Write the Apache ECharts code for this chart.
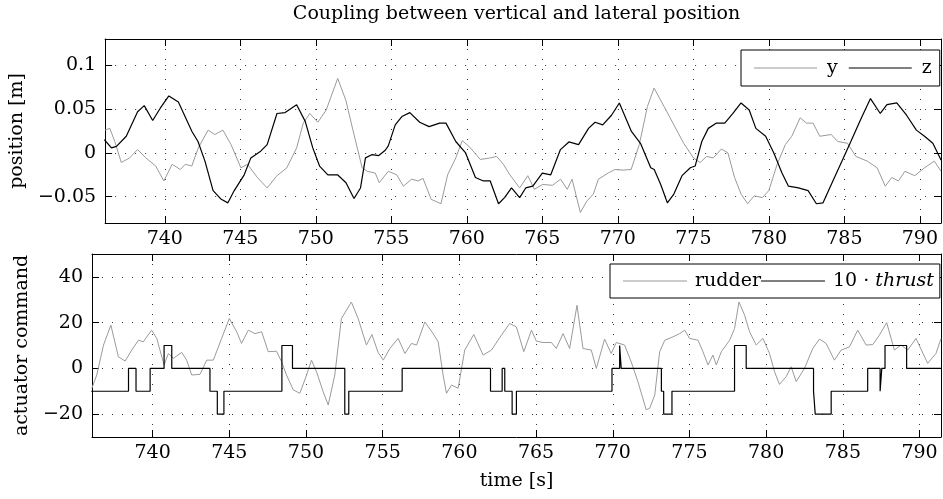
<!DOCTYPE html>
<html><head><meta charset="utf-8">
<script src="https://cdn.jsdelivr.net/npm/echarts@6/dist/echarts.min.js"></script>
<style>html,body{margin:0;padding:0;background:#fff}#c{width:943px;height:499px}</style>
</head><body><div id="c"></div>
<script>
const titleText = 'Coupling between vertical and lateral position';
const xTicks = [740,745,750,755,760,765,770,775,780,785,790];
const posTicks = [-0.05,0,0.05,0.1];
const actTicks = [-20,0,20,40];

const zTime = [736.0,736.47,736.8,737.45,738.2,738.64,739.2,739.7,740.27,740.9,741.8,742.2,742.66,743.2,743.74,744.18,744.6,745.26,745.7,746.35,746.78,747.43,747.97,748.73,749.3,749.8,750.25,750.8,751.44,752.0,752.53,752.96,753.29,753.7,754.17,754.6,754.8,755.26,755.7,756.23,756.88,757.5,758.2,758.62,759.27,759.92,760.57,761.1,761.55,762.1,762.5,762.96,763.5,763.9,764.37,765.0,765.56,766.2,766.76,767.4,768.06,768.49,769.0,769.58,770.1,770.9,771.5,772.18,772.41,772.84,773.05,773.28,773.71,774.25,774.8,775.12,775.56,775.99,776.53,777.08,777.62,778.16,778.7,779.14,779.79,780.33,780.87,781.3,781.96,782.6,783.15,783.59,784.24,784.89,785.43,786.08,786.73,787.38,787.82,788.47,789.12,789.77,790.31,790.86,791.29,791.4];
const zVal = [0.015,0.0057,0.0075,0.019,0.047,0.054,0.037,0.051,0.065,0.058,0.0245,0.013,-0.0094,-0.043,-0.053,-0.057,-0.043,-0.025,-0.0057,0.002,0.0094,0.045,0.046,0.055,0.036,0.0057,-0.015,-0.025,-0.025,-0.034,-0.052,-0.040,-0.0057,-0.002,-0.003,0.003,0.008,0.032,0.0415,0.046,0.035,0.030,0.034,0.034,0.013,0.0,-0.028,-0.032,-0.032,-0.058,-0.051,-0.040,-0.051,-0.040,-0.038,-0.023,-0.025,0.0038,0.0125,0.0094,0.028,0.035,0.032,0.043,0.057,0.0245,0.011,-0.017,-0.019,-0.036,-0.046,-0.057,-0.047,-0.026,-0.017,-0.015,0.013,0.028,0.034,0.034,0.045,0.057,0.049,0.028,0.019,0.0,-0.023,-0.038,-0.040,-0.043,-0.058,-0.057,-0.032,-0.0075,0.013,0.038,0.062,0.045,0.055,0.057,0.043,0.026,0.019,0.011,-0.004,-0.008];

const yTime = [736.04,736.36,736.69,737.12,737.67,738.2,738.75,739.4,739.94,740.49,741.03,741.36,741.79,742.22,742.87,743.31,743.85,744.39,745.04,745.48,746.13,746.78,747.43,748.08,748.73,749.17,749.6,750.14,750.69,751.45,751.99,752.53,753.07,753.4,753.94,754.2,754.8,755.36,755.8,756.34,756.77,757.1,757.64,758.29,758.73,759.27,759.7,760.14,760.9,761.55,761.98,762.42,762.85,763.5,764.04,764.48,765.02,765.67,766.21,766.65,766.97,767.52,767.95,768.38,768.71,769.36,769.79,770.34,770.88,771.42,771.96,772.4,773.06,773.71,774.36,775.01,775.45,775.88,776.32,776.86,777.29,777.73,778.16,778.6,779.03,779.57,780.0,780.55,781.09,781.52,782.07,782.5,782.93,783.37,784.13,784.56,785.21,785.76,786.52,787.17,787.71,788.14,788.58,789.01,789.66,790.31,790.96,791.4];
const yVal = [0.026,0.028,0.013,-0.011,-0.0057,0.0038,-0.0057,-0.015,-0.032,-0.013,-0.019,-0.013,-0.015,0.0057,0.026,0.021,0.026,0.0094,-0.017,-0.013,-0.028,-0.040,-0.026,-0.017,0.0057,0.034,0.045,0.035,0.049,0.085,0.060,0.021,-0.017,-0.021,-0.023,-0.034,-0.021,-0.025,-0.038,-0.030,-0.032,-0.029,-0.053,-0.058,-0.025,-0.0057,0.014,0.0075,-0.0075,-0.0057,-0.004,-0.013,-0.025,-0.040,-0.026,-0.0415,-0.036,-0.037,-0.030,-0.0415,-0.030,-0.068,-0.055,-0.047,-0.030,-0.023,-0.019,-0.0196,-0.019,0.0094,0.053,0.074,0.053,0.032,0.011,-0.0057,-0.011,-0.004,-0.0057,0.0045,0.0,-0.028,-0.047,-0.058,-0.049,-0.051,-0.043,-0.013,0.0094,0.019,0.040,0.034,0.034,0.019,0.021,0.013,0.011,-0.004,-0.0094,-0.017,-0.038,-0.028,-0.032,-0.021,-0.026,-0.017,-0.0094,-0.021];

const rudderTime = [736.04,736.36,736.8,737.28,737.77,738.21,738.64,739.08,739.4,739.62,739.94,740.27,740.75,741.03,741.36,741.9,742.22,742.55,743.09,743.53,743.96,744.5,745.0,745.48,745.8,746.24,746.67,747.11,747.54,748.08,748.41,748.73,749.17,749.6,750.04,750.36,750.69,751.12,751.45,751.88,752.31,752.96,753.4,753.94,754.3,754.7,755.04,755.47,756.01,756.45,756.88,757.21,757.75,758.29,758.62,758.94,759.16,759.49,759.92,760.35,760.94,761.55,762.09,762.74,763.28,763.72,764.2,764.7,765.02,765.45,766.0,766.32,766.76,767.19,767.67,768.06,768.6,768.93,769.47,769.9,770.23,770.77,771.2,771.64,772.18,772.41,772.74,773.06,773.39,773.93,774.36,774.69,775.01,775.56,775.88,776.21,776.53,776.75,777.08,777.62,777.94,778.23,778.6,778.92,779.35,779.79,780.22,780.55,780.87,781.31,781.63,781.96,782.5,783.04,783.48,783.91,784.45,784.89,785.43,785.97,786.52,786.95,787.38,787.86,788.36,788.79,789.23,789.77,790.53,791.07,791.4];
const rudderVal = [-8.7,-2.9,10.2,18.9,5.1,3.2,8.0,12.3,11.6,13.8,16.7,13.1,1.5,6.5,4.4,7.0,3.6,-2.9,-2.6,3.6,3.6,13.1,21.8,16.0,10.9,16.7,15.2,16.0,7.3,7.5,2.9,-2.9,-9.4,-10.9,-2.9,3.6,-1.5,-10.2,-16.0,-2.9,21.8,29.0,21.8,10.2,14.8,7.0,3.6,8.7,13.1,6.5,10.9,10.2,20.3,15.2,11.6,-2.9,-10.9,-7.3,-8.7,8.0,14.8,5.8,8.0,14.5,19.6,18.1,7.3,16.7,11.9,11.3,11.3,8.7,15.2,8.7,27.6,8.7,8.0,0.0,12.8,6.5,11.3,10.2,2.9,-5.8,-18.1,-17.4,-11.6,7.3,12.3,13.8,15.2,16.7,13.1,12.3,7.3,1.5,5.8,1.5,7.3,12.3,17.4,29.0,23.2,16.0,10.2,13.1,6.5,-1.5,-7.0,-3.6,0.7,-5.8,0.0,8.7,12.8,10.9,3.6,8.0,9.4,16.7,10.2,10.4,14.5,20.0,8.0,10.2,8.0,13.1,2.2,6.5,13.0];

const thrustTime = [736.0,738.43,738.92,739.84,740.75,741.25,743.74,744.22,744.65,748.43,749.12,752.53,752.79,756.27,762.03,762.79,762.96,763.44,763.72,769.95,770.45,770.55,773.17,773.32,773.86,777.94,778.7,783.09,783.2,784.24,786.62,787.43,787.54,787.75,789.16,791.4];
const thrustVal = [-10,0,-10,0,10,0,-10,-20,-10,10,0,-20,-10,0,-10,0,-10,-20,-10,0,10,0,-10,-20,-10,10,0,-10,-20,-10,0,-10,0,10,0,0];

const zip = (a,b) => a.map((t,i)=>[t,b[i]]);
const FONT = 'DejaVu Serif';
const FS = 19;
const XMIN = 736.05, XMAX = 791.4;
const minusFmt = v => String(v).replace('-', '\u2212');
const GRIDLINE = {type:[1,9],color:'#333',width:1};

function xAxisPair(gridIndex, showLabels, name) {
  const base = {
    type:'value', gridIndex, min:XMIN, max:XMAX,
    axisLine:{show:true,onZero:false,lineStyle:{color:'#000',width:1}},
    axisTick:{show:true,inside:true,length:7,customValues:xTicks,lineStyle:{color:'#000'}},
  };
  return [
    Object.assign({}, base, {
      position:'bottom',
      axisLabel:{show:showLabels,customValues:xTicks,margin:7,color:'#000',fontFamily:FONT,fontSize:FS},
      splitLine:{show:true,lineStyle:GRIDLINE},
      name: name || '', nameLocation:'middle', nameGap:35,
      nameTextStyle:{color:'#000',fontFamily:FONT,fontSize:FS}
    }),
    Object.assign({}, base, {
      position:'top', axisLabel:{show:false}, splitLine:{show:false}
    })
  ];
}
function yAxisPair(gridIndex, min, max, ticks, name) {
  const base = {
    type:'value', gridIndex, min, max,
    axisLine:{show:true,onZero:false,lineStyle:{color:'#000',width:1}},
    axisTick:{show:true,inside:true,length:7,customValues:ticks,lineStyle:{color:'#000'}},
  };
  return [
    Object.assign({}, base, {
      position:'left',
      axisLabel:{show:true,customValues:ticks,margin:9,color:'#000',fontFamily:FONT,fontSize:FS,formatter:minusFmt},
      splitLine:{show:true,lineStyle:GRIDLINE},
      name, nameLocation:'middle', nameGap:56, nameRotate:90,
      nameTextStyle:{color:'#000',fontFamily:FONT,fontSize:FS}
    }),
    Object.assign({}, base, {
      position:'right', axisLabel:{show:false}, splitLine:{show:false}
    })
  ];
}

const chart = echarts.init(document.getElementById('c'), null, {renderer:'canvas'});
const legendText = {color:'#000',fontFamily:FONT,fontSize:FS,lineHeight:20,
  rich:{i:{fontStyle:'italic',fontFamily:FONT,fontSize:FS,color:'#000'}}};
chart.setOption({
  animation:false,
  backgroundColor:'#fff',
  graphic:[{type:'text',x:516.5,y:14,style:{text:titleText,font:FS+'px "'+FONT+'"',fill:'#000',align:'center',verticalAlign:'middle'}}],
  grid:[
    {left:92,right:2,top:39,height:184,containLabel:false},
    {left:92,right:2,top:254,height:183,containLabel:false}
  ],
  xAxis:[...xAxisPair(0,true,''), ...xAxisPair(1,true,'time [s]')],
  yAxis:[...yAxisPair(0,-0.08,0.13,posTicks,'position [m]'), ...yAxisPair(1,-30,50,actTicks,'actuator command')],
  legend:[
    {data:['y','z'],left:741,top:50,orient:'horizontal',icon:'rect',itemWidth:63,itemHeight:1,itemGap:11,
     padding:[8,8,8,13],borderColor:'#000',borderWidth:1,backgroundColor:'#fff',
     textStyle:Object.assign({padding:[0,0,0,5]},legendText)},
    {data:['rudder','10 · thrust'],left:610,top:264,orient:'horizontal',icon:'rect',itemWidth:64,itemHeight:1,itemGap:0,
     padding:[7,6,7,13],borderColor:'#000',borderWidth:1,backgroundColor:'#fff',
     formatter: n => n === '10 · thrust' ? '10 \u00b7 {i|thrust}' : n,
     textStyle:Object.assign({padding:[0,0,0,3]},legendText)}
  ],
  series:[
    {name:'y',type:'line',xAxisIndex:0,yAxisIndex:0,data:zip(yTime,yVal),symbol:'none',
     lineStyle:{color:'#9a9a9a',width:1},itemStyle:{color:'#9a9a9a'}},
    {name:'z',type:'line',xAxisIndex:0,yAxisIndex:0,data:zip(zTime,zVal),symbol:'none',
     lineStyle:{color:'#000',width:1.2},itemStyle:{color:'#000'}},
    {name:'rudder',type:'line',xAxisIndex:2,yAxisIndex:2,data:zip(rudderTime,rudderVal),symbol:'none',
     lineStyle:{color:'#9a9a9a',width:1},itemStyle:{color:'#9a9a9a'}},
    {name:'10 · thrust',type:'line',xAxisIndex:2,yAxisIndex:2,data:zip(thrustTime,thrustVal),symbol:'none',step:'end',
     lineStyle:{color:'#000',width:1.2},itemStyle:{color:'#000'}}
  ]
});
</script>
</body></html>
